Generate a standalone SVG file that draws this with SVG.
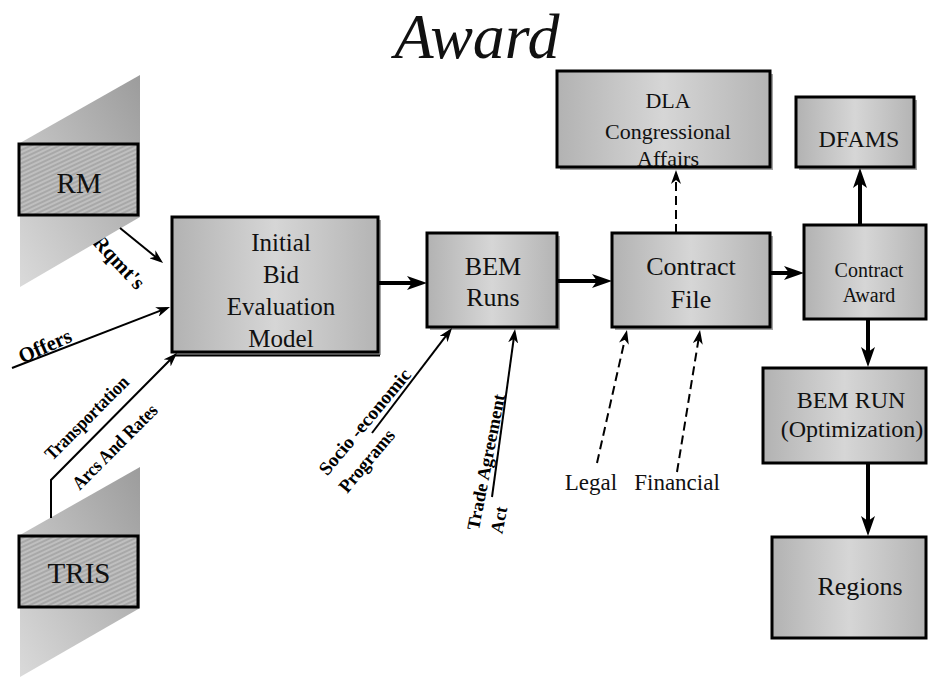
<svg xmlns="http://www.w3.org/2000/svg" width="928" height="677" viewBox="0 0 928 677">
  <defs>
    <linearGradient id="boxFill" x1="0" y1="0" x2="1" y2="0">
      <stop offset="0" stop-color="#b2b2b2"/>
      <stop offset="0.5" stop-color="#d6d6d6"/>
      <stop offset="1" stop-color="#b4b4b4"/>
    </linearGradient>
    <linearGradient id="slab" x1="1" y1="0" x2="0" y2="1">
      <stop offset="0" stop-color="#9c9c9c"/>
      <stop offset="1" stop-color="#dadada"/>
    </linearGradient>
    <pattern id="hatch" width="4" height="4" patternUnits="userSpaceOnUse" patternTransform="rotate(-25)">
      <rect width="4" height="4" fill="#bfbfbf"/>
      <line x1="0" y1="1" x2="4" y2="1" stroke="#929292" stroke-width="1"/>
    </pattern>
    <marker id="head" viewBox="0 0 20 14" refX="12" refY="7" markerWidth="20" markerHeight="14" markerUnits="userSpaceOnUse" orient="auto">
      <path d="M0,0 L20,7 L0,14 L5,7 z" fill="#000"/>
    </marker>
    <marker id="tip" viewBox="0 0 14 10" refX="10" refY="5" markerWidth="14" markerHeight="10" markerUnits="userSpaceOnUse" orient="auto">
      <path d="M0,0 L14,5 L0,10 L4,5 z" fill="#000"/>
    </marker>
  </defs>
  <style>
    .box { fill: url(#boxFill); stroke: #000; stroke-width: 3; }
    .shadow { fill: #a4a4a4; }
    .slab { fill: url(#slab); }
    .src { fill: url(#hatch); stroke: #000; stroke-width: 3; }
    .lbl { font-family: "Liberation Serif", "Times New Roman", serif; fill: #111; text-anchor: middle; }
    .tag { font-family: "Liberation Serif", "Times New Roman", serif; font-weight: bold; fill: #000; text-anchor: middle; }
    .thick { stroke: #000; stroke-width: 4; fill: none; marker-end: url(#head); }
    .thin { stroke: #000; stroke-width: 2; fill: none; marker-end: url(#tip); }
    .dash { stroke: #000; stroke-width: 2; stroke-dasharray: 9 5; fill: none; marker-end: url(#tip); }
  </style>

  <rect width="928" height="677" fill="#fff"/>

  <!-- title -->
  <text class="lbl" x="477" y="58" font-style="italic" font-size="64">Award</text>

  <!-- edge labels (drawn first so the RM slab can overlap the first letter) -->
  <g id="edge-labels">
    <text class="tag" font-size="21" transform="translate(119,262) rotate(47)" y="7" textLength="66" lengthAdjust="spacingAndGlyphs">Rqmt's</text>
    <text class="tag" font-size="21" transform="translate(45,346) rotate(-24)" y="7" textLength="56" lengthAdjust="spacingAndGlyphs">Offers</text>
    <text class="tag" font-size="19" transform="translate(87,418) rotate(-45)" y="6" textLength="110" lengthAdjust="spacingAndGlyphs">Transportation</text>
    <text class="tag" font-size="19" transform="translate(115,447) rotate(-45)" y="6" textLength="112" lengthAdjust="spacingAndGlyphs">Arcs And Rates</text>
    <text class="tag" font-size="19" transform="translate(365,422) rotate(-50)" y="6" textLength="132" lengthAdjust="spacingAndGlyphs">Socio  -economic</text>
    <text class="tag" font-size="19" transform="translate(367,461) rotate(-50)" y="6" textLength="76" lengthAdjust="spacingAndGlyphs">Programs</text>
    <text class="tag" font-size="18" transform="translate(486,462) rotate(-79)" y="6" textLength="138" lengthAdjust="spacingAndGlyphs">Trade Agreement</text>
    <text class="tag" font-size="18" transform="translate(499,520) rotate(-79)" y="6">Act</text>
    <text class="lbl" font-size="23" x="591" y="490">Legal</text>
    <text class="lbl" font-size="23" x="677" y="490">Financial</text>
  </g>

  <!-- data sources -->
  <g id="rm">
    <polygon class="slab" points="20,143 140,75 140,217 20,287"/>
    <rect class="src" x="19" y="144" width="119" height="71"/>
    <text class="lbl" font-size="29" x="79" y="193">RM</text>
  </g>
  <g id="tris">
    <polygon class="slab" points="20,535 140,467 140,608 20,677"/>
    <rect class="src" x="19" y="536" width="119" height="71"/>
    <text class="lbl" font-size="29" x="79" y="583">TRIS</text>
  </g>

  <!-- process boxes -->
  <g id="initial-bem">
    <rect class="shadow" x="175" y="220" width="206" height="135"/>
    <rect class="box" x="172" y="217" width="206" height="135"/>
    <line x1="174" y1="355.5" x2="380" y2="355.5" stroke="#000" stroke-width="2"/>
    <text class="lbl" font-size="25" x="281" y="251">Initial</text>
    <text class="lbl" font-size="25" x="281" y="283">Bid</text>
    <text class="lbl" font-size="25" x="281" y="315">Evaluation</text>
    <text class="lbl" font-size="25" x="281" y="347">Model</text>
  </g>
  <g id="bem-runs">
    <rect class="shadow" x="430" y="236" width="130" height="94"/>
    <rect class="box" x="427" y="233" width="130" height="94"/>
    <text class="lbl" font-size="26" x="493" y="275">BEM</text>
    <text class="lbl" font-size="26" x="493" y="306">Runs</text>
  </g>
  <g id="contract-file">
    <rect class="shadow" x="615" y="236" width="158" height="94"/>
    <rect class="box" x="612" y="233" width="158" height="94"/>
    <text class="lbl" font-size="26" x="691" y="275">Contract</text>
    <text class="lbl" font-size="26" x="691" y="308">File</text>
  </g>
  <g id="dla">
    <rect class="shadow" x="560" y="74" width="213" height="96"/>
    <rect class="box" x="557" y="71" width="213" height="96"/>
    <text class="lbl" font-size="22" x="668" y="108">DLA</text>
    <text class="lbl" font-size="22" x="668" y="139">Congressional</text>
    <text class="lbl" font-size="22" x="668" y="166">Affairs</text>
  </g>
  <g id="dfams">
    <rect class="shadow" x="799" y="100" width="118" height="70"/>
    <rect class="box" x="796" y="97" width="118" height="70"/>
    <text class="lbl" font-size="24" x="859" y="147">DFAMS</text>
  </g>
  <g id="contract-award">
    <rect class="box" x="804" y="225" width="122" height="94"/>
    <text class="lbl" font-size="20" x="869" y="277">Contract</text>
    <text class="lbl" font-size="20" x="869" y="302">Award</text>
  </g>
  <g id="bem-run-opt">
    <rect class="box" x="763" y="368" width="163" height="95"/>
    <text class="lbl" font-size="24" x="851" y="408">BEM RUN</text>
    <text class="lbl" font-size="24" x="852" y="437">(Optimization)</text>
  </g>
  <g id="regions">
    <rect class="box" x="772" y="537" width="154" height="101"/>
    <text class="lbl" font-size="26" x="860" y="595">Regions</text>
  </g>

  <!-- connectors -->
  <g id="connectors">
    <path class="thick" d="M378,283 H419"/>
    <path class="thick" d="M557,281 H604"/>
    <path class="thick" d="M770,273 H796"/>
    <path class="thick" d="M860,225 V176"/>
    <path class="thick" d="M868,319 V359"/>
    <path class="thick" d="M868,463 V528"/>

    <path class="thin" d="M120,228 L160,260.5"/>
    <path class="thin" d="M12,368 L166.3,308.4"/>
    <path class="thin" d="M51,518 V480 L174.2,355.8"/>
    <path class="thin" d="M372,433 L449.6,331.2"/>
    <path class="thin" d="M492,497 L514.5,333"/>

    <path class="dash" d="M676,233 V174"/>
    <path class="dash" d="M597,463 L626.1,333.9"/>
    <path class="dash" d="M677,472 L699.4,334"/>
  </g>
</svg>
